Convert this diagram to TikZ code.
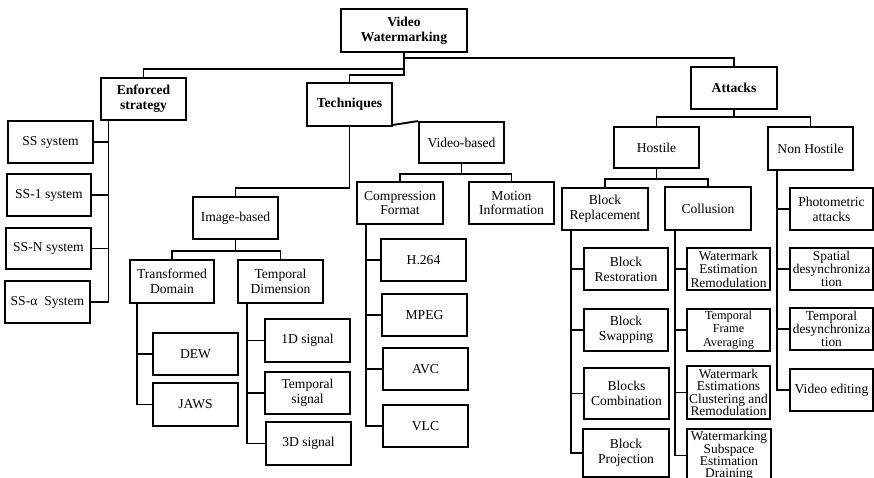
\documentclass[tikz,border=0pt]{standalone}
\usepackage{fontspec}
\setmainfont{Liberation Serif}
\tikzset{
  box/.style={draw, line width=1.9pt, align=center, inner sep=0.5pt, font=\fontsize{13.6}{14.8}\selectfont},
  conn/.style={line width=1.9pt},
  bold/.style={font=\fontsize{13.6}{15}\selectfont\bfseries}
}
\newcommand\mybox[7][]{\node[box,#1,minimum width={(#5-#3)*1pt},minimum height={(#6-#4)*1pt}] (#2) at ({(#3+#5)/2},{(#4+#6)/2}) {#7};}
\begin{document}
\begin{tikzpicture}[x=1pt,y=-1pt]
\useasboundingbox (0,0) rectangle (874,478);
% top level
\mybox[bold]{vw}{341}{9}{467}{52}{Video\\Watermarking}
\mybox[bold]{es}{101}{78}{186}{120}{Enforced\\strategy}
\mybox[bold]{tech}{307}{83}{392}{126}{Techniques}
\mybox[bold]{att}{691}{67}{777}{109}{Attacks}
% enforced strategy
\mybox{ss}{8}{121}{93}{163}{SS system}
\mybox{ss1}{7}{174}{91}{216}{SS-1 system}
\mybox{ssn}{6}{228}{91}{269}{SS-N system}
\mybox{ssa}{5}{281}{90}{323}{SS-α~ System}
% techniques
\mybox{ib}{193}{197}{278}{239}{Image-based}
\mybox{vb}{419}{122}{504}{163}{Video-based}
\mybox{cf}{357}{182}{443}{224}{Compression\\Format}
\mybox{mi}{469}{182}{554}{224}{Motion\\Information}
\mybox{h264}{381}{239}{466}{281}{H.264}
\mybox{mpeg}{382}{294}{467}{336}{MPEG}
\mybox{avc}{383}{348}{468}{390}{AVC}
\mybox{vlc}{383}{405}{468}{447}{VLC}
\mybox{td}{130}{260}{214}{303}{Transformed\\Domain}
\mybox{tdim}{238}{260}{323}{303}{Temporal\\Dimension}
\mybox{dew}{153}{333}{238}{375}{DEW}
\mybox{jaws}{153}{383}{238}{426}{JAWS}
\mybox{sa}{265}{319}{350}{362}{1D signal}
\mybox{tsig}{265}{372}{350}{414}{Temporal\\signal}
\mybox{sc}{266}{422}{351}{465}{3D signal}
% attacks
\mybox{host}{614}{127}{699}{168}{Hostile}
\mybox{nh}{768}{127}{853}{170}{Non Hostile}
\mybox{br}{562}{188}{648}{230}{Block\\Replacement}
\mybox{col}{665}{187}{751}{230}{Collusion}
\mybox{bres}{584}{248}{668}{290}{Block\\Restoration}
\mybox{bswap}{584}{309}{668}{351}{Block\\Swapping}
\mybox{bcomb}{584}{368}{669}{419}{Blocks\\Combination}
\mybox{bproj}{583}{429}{669}{477}{Block\\Projection}
\mybox[font=\fontsize{13.4}{13.5}\selectfont]{wer}{687}{248}{770}{290}{Watermark\\Estimation\\Remodulation}
\mybox[font=\fontsize{12.3}{13.5}\selectfont]{tfa}{687}{309}{770}{351}{Temporal\\Frame\\Averaging}
\mybox[font=\fontsize{13.4}{12.5}\selectfont]{wec}{687}{366}{770}{419}{Watermark\\Estimations\\Clustering and\\Remodulation}
\mybox[font=\fontsize{13.4}{12}\selectfont]{wsd}{687}{429}{771}{482}{Watermarking\\Subspace\\Estimation\\Draining}
\mybox{photo}{790}{188}{873}{230}{Photometric\\attacks}
\mybox[font=\fontsize{13.4}{13}\selectfont]{spat}{790}{248}{873}{290}{Spatial\\desynchroniza\\tion}
\mybox[font=\fontsize{13.4}{13}\selectfont]{temp}{790}{308}{873}{350}{Temporal\\desynchroniza\\tion}
\mybox{vedit}{790}{369}{873}{411}{Video editing}
% top connectors
\coordinate (t1) at (404,58);
\coordinate (t2) at (404,69);
\coordinate (t3) at (404,75);
\draw[conn] (vw.south) -- (t3) -| (tech.north);
\draw[conn] (t2) -| (es.north);
\draw[conn] (t1) -| (att.north);
% enforced strategy
\coordinate (esv) at (108.5,120.5);
\draw[conn] (esv) |- (ssa.east);
\foreach \n in {ss,ss1,ssn} \draw[conn] (\n.east) -- (\n.east -| esv);
% techniques
\coordinate (tb) at (349.5,188);
\draw[conn] (tech.south) -- (tb) -| (ib.north);
\draw[conn] ([yshift=2pt]tech.south east) -- (vb.north west);
\coordinate (vbj) at (461.5,174);
\draw[conn] (vb.south) -- (vbj);
\draw[conn] (cf.north) |- (vbj) -| (mi.north);
\coordinate (cfv) at (366,224.5);
\draw[conn] (cfv) |- (vlc.west);
\foreach \n in {h264,mpeg,avc} \draw[conn] (\n.west) -- (\n.west -| cfv);
\coordinate (ibj) at (235.5,251);
\draw[conn] (ib.south) -- (ibj);
\draw[conn] (td.north) |- (ibj) -| (tdim.north);
\coordinate (tdv) at (137,303.5);
\draw[conn] (tdv) |- (jaws.west);
\draw[conn] (dew.west) -- (dew.west -| tdv);
\coordinate (tdimv) at (247,303.5);
\draw[conn] (tdimv) |- (sc.west);
\foreach \n in {sa,tsig} \draw[conn] (\n.west) -- (\n.west -| tdimv);
% attacks
\coordinate (aj) at (734,117);
\draw[conn] (att.south) -- (aj);
\draw[conn] (host.north) |- (aj) -| (nh.north);
\coordinate (hj) at (656.5,179);
\draw[conn] (host.south) -- (hj);
\draw[conn] (br.north) |- (hj) -| (col.north);
\coordinate (brv) at (571,230.5);
\draw[conn] (brv) |- (bproj.west);
\foreach \n in {bres,bswap,bcomb} \draw[conn] (\n.west) -- (\n.west -| brv);
\coordinate (colv) at (675,230.5);
\draw[conn] (colv) |- (wsd.west);
\foreach \n in {wer,tfa,wec} \draw[conn] (\n.west) -- (\n.west -| colv);
\coordinate (nhv) at (777,170.5);
\draw[conn] (nhv) |- (vedit.west);
\foreach \n in {photo,spat,temp} \draw[conn] (\n.west) -- (\n.west -| nhv);
\end{tikzpicture}
\end{document}
